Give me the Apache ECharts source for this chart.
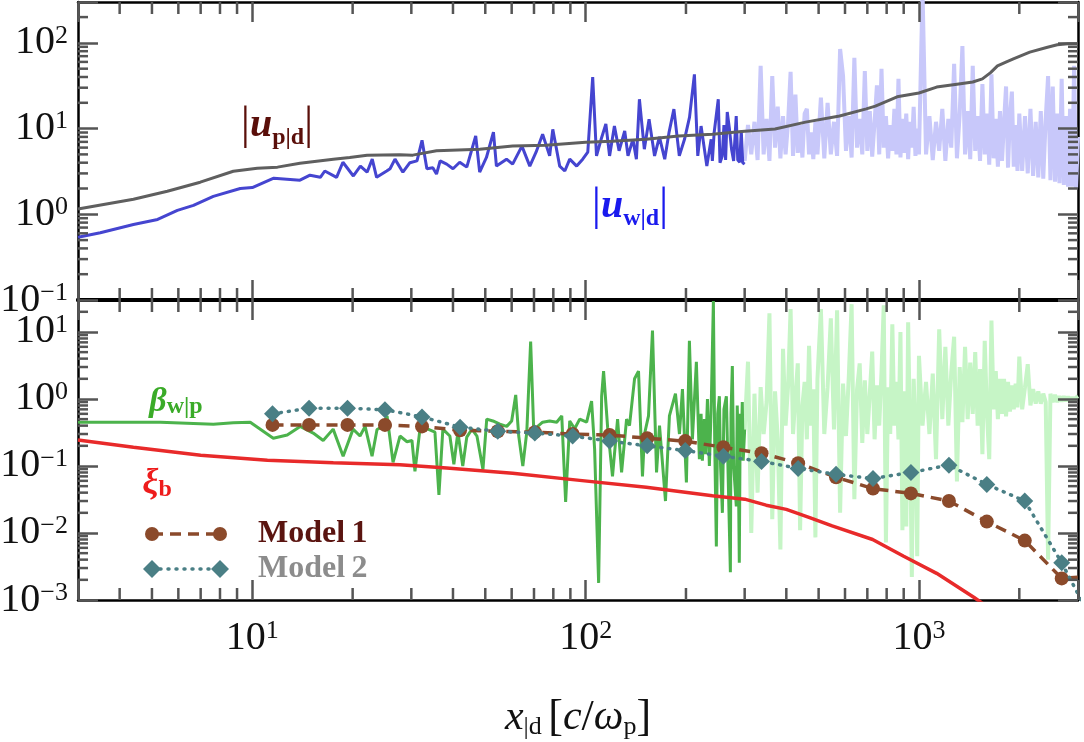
<!DOCTYPE html>
<html>
<head>
<meta charset="utf-8">
<script src="https://cdn.jsdelivr.net/npm/echarts@6/dist/echarts.min.js"></script>
<style>
html, body { margin: 0; padding: 0; background: #fff; }
#wrap { position: relative; width: 1084px; height: 742px; }
#chart, #ticks { position: absolute; left: 0; top: 0; width: 1084px; height: 742px; }
#ticks { pointer-events: none; }
</style>
</head>
<body>
<div id="wrap"><div id="chart"></div><div id="ticks"></div></div>
<script>
// ---- data ----
// |u_p|d| (grey)
const upLine = [[3,1.15],[4.4,1.5],[5.56,1.86],[6.98,2.37],[8.77,3.18],[10.35,3.45],[11.9,3.55],[13.9,3.95],[17.5,4.4],[19.6,4.6],[22.1,4.9],[27.7,4.95],[30.3,4.9],[35.7,5.5],[48.1,5.75],[60.4,6.25],[76,6.4],[100,6.95],[120,7.1],[152,7.5],[190,8.2],[240,8.6],[300,9.3],[370,9.9],[457,11.9],[578,14],[695,17],[740,18.3],[860,23.5],[1000,26],[1130,30.5],[1300,33],[1450,35],[1550,38],[1640,45],[1720,54],[1830,60],[1920,65],[2150,78],[2430,89],[2600,95],[2800,98],[3000,98]];

// |u_w|d| below x = 300 (dark blue)
const uwDark = [[3,0.54],[3.5,0.61],[4.4,0.76],[5.2,0.87],[5.96,1.11],[6.66,1.27],[7.64,1.62],[9.2,2.0],[10,2.05],[11.6,2.64],[13.9,2.5],[14.9,2.86],[16,2.7],[16.5,3.2],[17.9,2.7],[18.7,4.05],[20.1,2.8],[21.1,3.65],[22.1,3.1],[22.9,4.4],[23.6,2.7],[25.3,3.2],[25.9,3.4],[26.8,4.4],[28.3,3.1],[29.7,4.0],[31.2,4.2],[32.3,7.3],[33.4,3.4],[34.8,3.5],[35.7,2.95],[36.6,4.2],[38.3,3.85],[40,3.4],[41.9,4.05],[44,3.55],[46.8,8.2],[48.1,3.1],[50.4,4.6],[52.9,9.1],[54,3.65],[57.9,4.4],[60.4,3.85],[64.4,6.25],[68,3.65],[71,5.3],[74.3,8.6],[78,4.8],[79.7,9.8],[83.6,3.65],[86.6,3.2],[89.6,4.4],[94,3.65],[98,4.4],[101.5,5.3],[105,40],[107.8,4.8],[111.3,7.5],[115,11.3],[118,4.8],[122,10.7],[126,5.5],[131,9.4],[134,4.8],[138.6,7.5],[142,4.4],[145,22],[150,5.75],[155,12.9],[161,4.8],[166.5,8],[172.7,4.4],[178,9.1],[184,16.9],[191,4.8],[198,7.5],[205,13.6],[212,43],[217,4.8],[222,10.7],[231,3.65],[238,7.5],[240,4.2],[243,9],[246,8.6],[250,22],[253,4.0],[257,4.8],[260,11],[263,4.3],[266,15.6],[270,10],[274,5.75],[278,4.2],[283,14],[286,4.3],[290,4.05],[293,9.5],[296,4.0],[300,3.85]];

// shared sample positions above x = 300 (pale curves)
const xFine = [
  300, 307, 314, 321, 328, 335, 342, 349, 356, 363,
  370, 377, 384, 391, 398, 405, 412, 419, 426, 433,
  440, 447, 454, 461, 468, 475, 482, 489, 496,
  508, 520, 532, 544, 556, 568, 580, 592, 604, 616,
  628, 640, 652, 664, 676, 688, 700, 712, 724, 736,
  748, 760, 772, 784, 796, 808, 820, 832, 844, 856,
  868, 880, 892, 904, 916, 928, 940, 952, 964, 976,
  988, 1000,
  1025, 1050, 1075, 1100, 1125, 1150, 1175, 1200, 1225, 1250,
  1275, 1300, 1325, 1350, 1375, 1400, 1425, 1450, 1475, 1500,
  1525, 1550, 1575, 1600, 1625, 1650, 1675, 1700, 1725, 1750,
  1775, 1800, 1825, 1850, 1875, 1900, 1925, 1950, 1975, 2000,
  2040, 2080, 2120, 2160, 2200, 2240, 2280, 2320, 2360, 2400,
  2440, 2480, 2520, 2560, 2600, 2640, 2680, 2720, 2760, 2800,
  2840, 2880, 2920, 2960, 3000
];
const uwFine = [
  4.2, 11, 5, 12, 4.3, 54, 5, 13, 4.2, 41,
  6, 18, 4.5, 14, 5, 12, 46, 4.8, 25, 5.2,
  11, 4.6, 15, 17, 5, 9, 4.4, 12, 5,
  23, 4.5, 20, 5, 12, 4.8, 85, 41, 5.5, 14,
  4.6, 67, 6, 13, 5, 47, 5.5, 16, 4.7, 12,
  32, 5, 50, 6, 14, 4.5, 11, 5.5, 17, 5,
  38, 4.6, 13, 5.2, 15, 4.4, 12, 6, 18, 4.8,
  10, 5,
  400, 5, 14, 4.3, 12, 5.5, 17, 4.2, 13, 6,
  57, 4.5, 15, 92, 5, 16, 4.4, 54, 5.5, 14,
  4.2, 33, 5, 15, 3.8, 43, 4.5, 13, 3.6, 16,
  4.2, 12, 31, 3.5, 14, 27, 3.6, 11, 3.2, 15,
  3.2, 14, 3, 17, 2.8, 12, 2.7, 16, 2.6, 13,
  41, 2.5, 31, 2.4, 15, 2.3, 38, 2.2, 14, 2.1,
  17, 2.1, 54, 2.0, 8
];
const betaFine = [
  0.35, 3.6, 0.01, 1.2, 0.04, 1.5, 0.3, 0.9, 19, 0.016,
  1.3, 0.25, 0.0057, 5.6, 0.4, 1.6, 22, 0.3, 1.1, 3.4,
  0.011, 0.8, 1.8, 0.25, 6.2, 0.4, 1.4, 0.0086, 2.0,
  22, 0.3, 1.5, 16, 0.35, 21, 0.02, 1.7, 0.28, 2.2,
  26, 0.032, 1.4, 3.4, 0.22, 1.9, 0.3, 1.2, 5.1, 0.25,
  1.6, 0.4, 2.5, 25, 0.0072, 1.5, 0.3, 13, 0.4, 1.8,
  0.25, 10, 0.011, 1.3, 0.0125, 14, 0.3, 0.0022, 2.0, 0.35,
  0.0045, 4.4,
  0.4, 1.8, 0.3, 2.4, 0.126, 11, 0.5, 6, 0.4, 2.5,
  8.5, 0.059, 3.0, 0.45, 6, 0.5, 3.5, 0.6, 5, 0.4,
  2.8, 0.15, 7.4, 0.6, 0.126, 14.8, 0.7, 2.6, 0.5, 2.0,
  0.6, 2.0, 0.55, 1.8, 0.65, 1.6, 0.7, 1.7, 0.75, 4.3,
  0.7, 1.5, 3.3, 0.8, 1.4, 0.85, 1.3, 0.85, 1.2, 0.9,
  0.004, 1.2, 0.9, 1.15, 0.9, 1.1, 0.92, 1.1, 0.93, 1.08,
  0.95, 1.06, 0.96, 1.05, 1.1
];

// beta_w|p below x = 300 (green)
const betaDark = [[3,0.45],[5.3,0.45],[7.64,0.42],[8.77,0.44],[9.86,0.45],[11.56,0.26],[12.73,0.29],[13.92,0.39],[15.23,0.31],[16.32,0.24],[17.48,0.355],[18.73,0.14],[20.06,0.355],[21.05,0.28],[21.8,0.39],[22.87,0.14],[23.67,0.35],[24.68,0.39],[25.37,0.56],[26.44,0.113],[27.74,0.28],[29.12,0.23],[30.13,0.24],[30.76,0.083],[31.84,0.355],[33.65,0.355],[35.31,0.32],[36.3,0.037],[37.3,0.355],[39.15,0.28],[40.25,0.106],[41.38,0.32],[42.8,0.1],[44,0.27],[45.6,0.355],[47.2,0.28],[49.2,0.089],[50.5,0.5],[52.7,0.47],[55.3,0.42],[58,0.39],[60,0.47],[61.7,1.15],[63,0.28],[64.8,0.1],[66.6,0.32],[68.4,7.2],[69.9,0.32],[71.8,0.39],[74.3,0.45],[78,0.47],[81.9,0.45],[84.8,0.56],[87.1,0.029],[89.6,0.47],[92.7,0.36],[96,0.5],[100.7,0.45],[104.2,0.93],[106.4,0.18],[109.4,0.0018],[111.7,1.1],[113.2,2.6],[116.4,0.38],[120.4,0.07],[124.7,0.5],[128.2,0.08],[132.7,0.5],[135.4,0.4],[140.2,2.0],[144.1,2.6],[148.1,0.07],[150.2,0.3],[154.4,0.56],[158.7,10.5],[163.2,0.08],[166.6,0.4],[173.6,0.03],[178.4,0.56],[186,1.2],[191.2,0.3],[195.2,1.4],[200.6,0.057],[204.8,7.4],[209.1,0.25],[214.9,3.6],[219.4,0.126],[222,0.6],[224,0.12],[227.1,0.5],[229,0.15],[232,1.0],[235.1,0.1],[238,0.7],[241.7,29],[244,0.2],[246.7,0.0063],[249,0.6],[251.9,1.1],[254,0.1],[257.2,0.02],[260,0.7],[264.4,1.1],[267,0.12],[271.8,0.0026],[273,0.6],[275.5,3.1],[278,0.1],[283.2,0.025],[285,0.8],[287,0.15],[289.1,0.0036],[291,0.6],[293,0.2],[295.1,0.9],[297,0.12],[300,0.35]];

// xi_b (red)
const xiLine = [[3,0.245],[4.4,0.19],[7,0.145],[11.1,0.122],[17.5,0.112],[27.7,0.104],[38.3,0.093],[60.4,0.078],[96,0.061],[152,0.048],[240,0.036],[300,0.032],[348,0.026],[400,0.0225],[470,0.017],[549,0.0128],[726,0.008],[900,0.0045],[1130,0.0025],[1460,0.0011],[1600,0.0008]];

// models
const modelX = [11.5, 14.8, 19.3, 25.0, 32.3, 42.0, 54.5, 70.4, 91.4, 118, 153, 199, 259, 337, 434, 564, 728, 946, 1230, 1598, 2077, 2681, 3480];
const model1 = [0.41, 0.41, 0.41, 0.41, 0.39, 0.34, 0.33, 0.32, 0.30, 0.29, 0.26, 0.235, 0.19, 0.155, 0.11, 0.068, 0.046, 0.039, 0.030, 0.0148, 0.0077, 0.0021, 0.0023];
const model2 = [0.60, 0.73, 0.73, 0.69, 0.54, 0.38, 0.33, 0.31, 0.28, 0.235, 0.2, 0.17, 0.14, 0.117, 0.092, 0.075, 0.065, 0.08, 0.103, 0.053, 0.030, 0.0036, 0.0003];

// decades that carry minor ticks
const xDecades = [0, 1, 2, 3];
const yDecadesTop = [-1, 0, 1, 2];
const yDecadesBottom = [-3, -2, -1, 0, 1];

const serif = 'Liberation Serif';
const tickColor = '#555';
const zip = (xs, ys) => xs.map((x, i) => [x, ys[i]]);

const grids = [
  { left: 78, top: 2, width: 1000, height: 298, outerBoundsMode: 'none' },
  { left: 78, top: 300, width: 1000, height: 300, outerBoundsMode: 'none' }
];
const xRanges = [[0, 'bottom', 4], [0, 'top', 2.5], [1, 'bottom', 2.5], [1, 'top', 4]];
const yRanges = [[0, 'left', 0.1, 300], [0, 'right', 0.1, 300], [1, 'left', 0.001, 30], [1, 'right', 0.001, 30]];

function powLabel(v) {
  const e = Math.round(Math.log10(v));
  return '{b|10}{e|' + (e < 0 ? '\u2212' + (-e) : e) + '}';
}
const labelRich = {
  b: { fontSize: 40, fontFamily: serif, color: '#111' },
  e: { fontSize: 26, fontFamily: serif, color: '#111', verticalAlign: 'top' }
};

// ================= main chart =================
const chart = echarts.init(document.getElementById('chart'));

const xName = {
  name: '{i|x}{s||d}{g| }{n|[}{i|c}{n|/}{i|\u03c9}{s|p}{n|]}',
  nameLocation: 'middle', nameGap: 96,
  nameTextStyle: { rich: {
    i: { fontSize: 42, fontStyle: 'italic', fontFamily: serif, color: '#111' },
    s: { fontSize: 26, fontFamily: serif, color: '#111', verticalAlign: 'bottom' },
    n: { fontSize: 44, fontFamily: serif, color: '#111' },
    g: { fontSize: 26, fontFamily: serif }
  } }
};

const mainX = xRanges.map(([g, pos, w], i) => Object.assign({
  type: 'log', gridIndex: g, position: pos, min: 3, max: 3000,
  axisLine: { show: true, lineStyle: { color: '#000', width: w } },
  axisTick: { show: false },
  axisLabel: i === 2 ? { show: true, margin: 18, formatter: powLabel, rich: labelRich,
    showMinLabel: false, showMaxLabel: false } : { show: false },
  splitLine: { show: false }
}, i === 2 ? xName : {}));
const mainY = yRanges.map(([g, pos, lo, hi]) => ({
  type: 'log', gridIndex: g, position: pos, min: lo, max: hi,
  axisLine: { show: true, lineStyle: { color: '#000', width: 2.5 } },
  axisTick: { show: false },
  axisLabel: pos === 'left' ? { show: true, margin: 10, formatter: powLabel, rich: labelRich,
    showMinLabel: true, showMaxLabel: false } : { show: false },
  splitLine: { show: false }
}));

// curve annotations and legend
const gr = [];
function mathLabel(x, y, color, head, sub, bars, headSize, subSize) {
  const text = bars ? '{bar||}{h|' + head + '}{s|' + sub + '}{bar||}' : '{h|' + head + '}{s|' + sub + '}';
  gr.push({
    type: 'text', x: x, y: y, z: 20,
    style: {
      text: text, fill: color, align: 'center', verticalAlign: 'middle',
      rich: {
        bar: { fontSize: 46, fontFamily: serif, lineHeight: 48, fill: color },
        h: { fontSize: headSize, fontFamily: serif, fontStyle: 'italic', fontWeight: 'bold', fill: color },
        s: { fontSize: subSize, fontFamily: serif, fontWeight: 'bold', verticalAlign: 'bottom', fill: color }
      }
    }
  });
}
mathLabel(277, 126, '#5a0f0a', 'u', 'p|d', true, 40, 24);
mathLabel(630, 207, '#1a1aee', 'u', 'w|d', true, 40, 24);
mathLabel(176, 402, '#3aab28', '\u03b2', 'w|p', false, 34, 24);
mathLabel(157, 484, '#ee1c1c', '\u03be', 'b', false, 36, 24);
gr.push({ type: 'line', z: 20, shape: { x1: 152, y1: 534, x2: 220, y2: 534 },
  style: { stroke: '#8b4a2b', lineWidth: 3.5, lineDash: [11, 7] } });
[152, 220].forEach(cx => gr.push({ type: 'circle', z: 21, shape: { cx: cx, cy: 534, r: 7 }, style: { fill: '#8b4a2b' } }));
gr.push({ type: 'line', z: 20, shape: { x1: 152, y1: 569, x2: 220, y2: 569 },
  style: { stroke: '#4a7f85', lineWidth: 3.5, lineDash: [1, 7], lineCap: 'round' } });
[152, 220].forEach(cx => gr.push({ type: 'polygon', z: 21,
  shape: { points: [[cx, 560], [cx + 9, 569], [cx, 578], [cx - 9, 569]] }, style: { fill: '#4a7f85' } }));
gr.push({ type: 'text', x: 258, y: 534, z: 20, style: { text: 'Model\u20091', fill: '#5a1410',
  font: 'bold 32px "Liberation Serif"', verticalAlign: 'middle' } });
gr.push({ type: 'text', x: 258, y: 569, z: 20, style: { text: 'Model\u20092', fill: '#8c8c8c',
  font: 'bold 32px "Liberation Serif"', verticalAlign: 'middle' } });

chart.setOption({
  animation: false,
  textStyle: { fontFamily: serif },
  grid: grids,
  xAxis: mainX,
  yAxis: mainY,
  graphic: gr,
  series: [
    { name: 'uw pale', type: 'line', xAxisIndex: 0, yAxisIndex: 0, data: zip(xFine, uwFine),
      symbol: 'none', z: 1, lineStyle: { color: '#c8c8fa', width: 4 } },
    { name: 'uw', type: 'line', xAxisIndex: 0, yAxisIndex: 0, data: uwDark,
      symbol: 'none', z: 2, lineStyle: { color: '#4545d0', width: 3 } },
    { name: 'up', type: 'line', xAxisIndex: 0, yAxisIndex: 0, data: upLine,
      symbol: 'none', z: 3, lineStyle: { color: '#5f5f5f', width: 3 } },
    { name: 'beta pale', type: 'line', xAxisIndex: 2, yAxisIndex: 2, data: zip(xFine, betaFine),
      symbol: 'none', z: 1, lineStyle: { color: '#c6f5c6', width: 4 } },
    { name: 'beta', type: 'line', xAxisIndex: 2, yAxisIndex: 2, data: betaDark,
      symbol: 'none', z: 2, lineStyle: { color: '#4cb34c', width: 3 } },
    { name: 'xi', type: 'line', xAxisIndex: 2, yAxisIndex: 2, data: xiLine,
      symbol: 'none', z: 3, lineStyle: { color: '#e82a2a', width: 3.5 } },
    { name: 'Model 1', type: 'line', xAxisIndex: 2, yAxisIndex: 2, data: zip(modelX, model1),
      symbol: 'circle', symbolSize: 14, z: 4,
      itemStyle: { color: '#8b4a2b' },
      lineStyle: { color: '#8b4a2b', width: 3.5, type: [11, 7] } },
    { name: 'Model 2', type: 'line', xAxisIndex: 2, yAxisIndex: 2, data: zip(modelX, model2),
      symbol: 'diamond', symbolSize: 17, z: 5,
      itemStyle: { color: '#4a7f85' },
      lineStyle: { color: '#4a7f85', width: 3.5, type: [1, 7], cap: 'round' } }
  ]
});

// ================= tick overlay (same axes, ticks only) =================
const tickChart = echarts.init(document.getElementById('ticks'));

function tickList(decades, lo, hi) {
  const out = [];
  decades.forEach(k => {
    for (let m = 2; m <= 9; m++) {
      const v = m * Math.pow(10, k);
      if (v > lo * 1.0001 && v < hi * 0.9999) out.push(v);
    }
  });
  return out;
}
function xMinorSeries(xi, yi) {
  return {
    type: 'custom', xAxisIndex: xi, yAxisIndex: yi,
    data: tickList(xDecades, 3, 3000).map(v => [v, 1]),
    renderItem: function (params, api) {
      const cs = params.coordSys;
      const x = api.coord([api.value(0), api.value(1)])[0];
      return { type: 'group', children: [
        { type: 'line', shape: { x1: x, y1: cs.y, x2: x, y2: cs.y + 12 }, style: { stroke: tickColor, lineWidth: 2.5 } },
        { type: 'line', shape: { x1: x, y1: cs.y + cs.height, x2: x, y2: cs.y + cs.height - 12 }, style: { stroke: tickColor, lineWidth: 2.5 } }
      ] };
    }
  };
}
function yMinorSeries(xi, yi, decades, lo, hi) {
  return {
    type: 'custom', xAxisIndex: xi, yAxisIndex: yi,
    data: tickList(decades, lo, hi).map(v => [10, v]),
    renderItem: function (params, api) {
      const cs = params.coordSys;
      const y = api.coord([api.value(0), api.value(1)])[1];
      return { type: 'group', children: [
        { type: 'line', shape: { x1: cs.x, y1: y, x2: cs.x + 10, y2: y }, style: { stroke: tickColor, lineWidth: 2.5 } },
        { type: 'line', shape: { x1: cs.x + cs.width, y1: y, x2: cs.x + cs.width - 10, y2: y }, style: { stroke: tickColor, lineWidth: 2.5 } }
      ] };
    }
  };
}

tickChart.setOption({
  animation: false,
  backgroundColor: 'transparent',
  grid: grids,
  xAxis: xRanges.map(([g, pos]) => ({
    type: 'log', gridIndex: g, position: pos, min: 3, max: 3000,
    axisLine: { show: false }, axisLabel: { show: false }, splitLine: { show: false },
    axisTick: { show: true, inside: true, length: 20, lineStyle: { color: tickColor, width: 2.5 } }
  })),
  yAxis: yRanges.map(([g, pos, lo, hi]) => ({
    type: 'log', gridIndex: g, position: pos, min: lo, max: hi,
    axisLine: { show: false }, axisLabel: { show: false }, splitLine: { show: false },
    axisTick: { show: true, inside: true, length: 20, lineStyle: { color: tickColor, width: 2.5 } }
  })),
  series: [
    xMinorSeries(0, 0),
    xMinorSeries(2, 2),
    yMinorSeries(0, 0, yDecadesTop, 0.1, 300),
    yMinorSeries(2, 2, yDecadesBottom, 0.001, 30)
  ]
});
</script>
</body>
</html>
